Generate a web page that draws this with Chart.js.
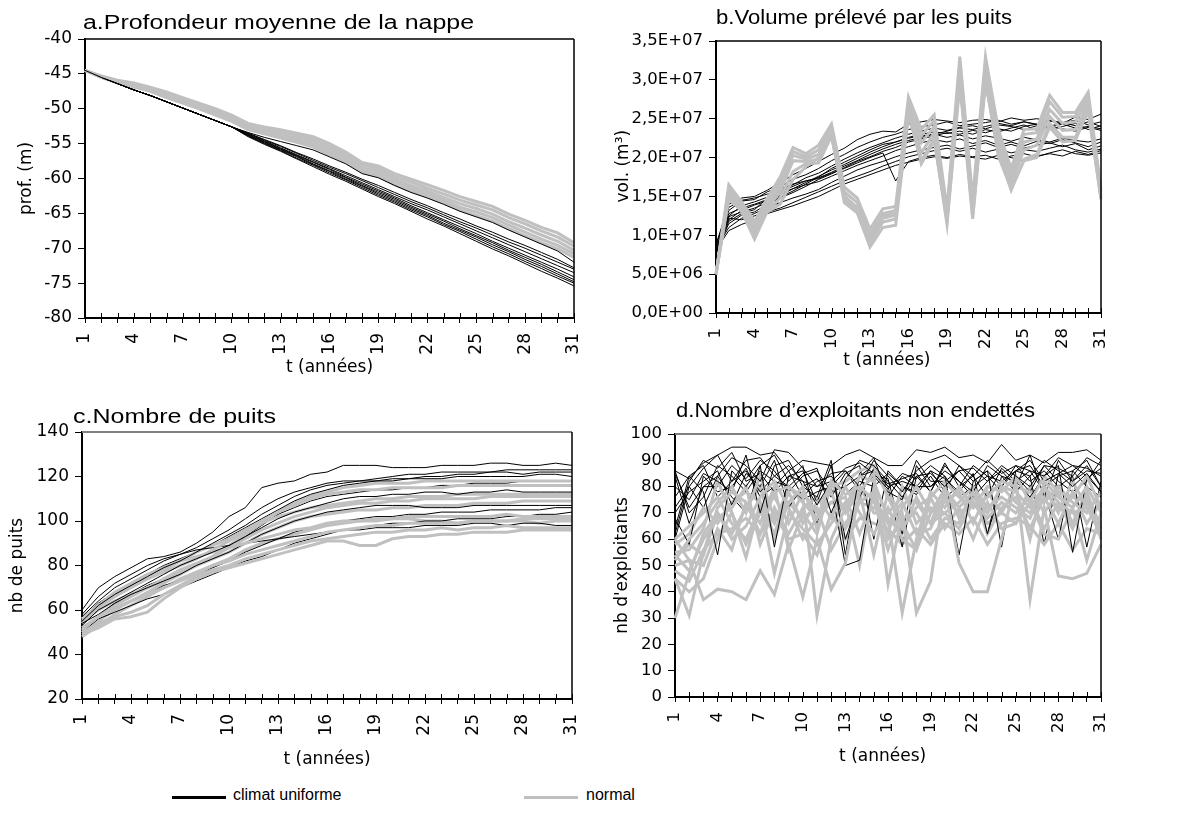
<!DOCTYPE html>
<html><head><meta charset="utf-8">
<script src="https://cdn.jsdelivr.net/npm/chart.js@4.4.0/dist/chart.umd.min.js"></script>
<style>
body{margin:0;background:#fff;width:1187px;height:816px;position:relative;overflow:hidden;font-family:'Liberation Sans',Arial,sans-serif}
canvas{position:absolute}
.leg{position:absolute;font-size:16px;color:#000;white-space:nowrap;line-height:18px}
.sw{position:absolute;height:3px}
</style></head><body>
<canvas id="ca" width="590" height="390" style="left:0;top:0"></canvas>
<canvas id="cb" width="597" height="390" style="left:590px;top:0"></canvas>
<canvas id="cc" width="590" height="390" style="left:0;top:390px"></canvas>
<canvas id="cd" width="597" height="390" style="left:590px;top:390px"></canvas>
<div class="sw" style="left:172px;top:796px;width:54px;background:#000"></div>
<div class="leg" style="left:233px;top:786px">climat uniforme</div>
<div class="sw" style="left:524px;top:796px;width:54px;background:#c0c0c0"></div>
<div class="leg" style="left:586px;top:786px">normal</div>
<script>
// ---------- data ----------
const years = ['1','2','3','4','5','6','7','8','9','10','11','12','13','14','15','16','17','18','19','20','21','22','23','24','25','26','27','28','29','30','31'];
const ticksVolume = ['0,0E+00','5,0E+06','1,0E+07','1,5E+07','2,0E+07','2,5E+07','3,0E+07','3,5E+07'];

// a. profondeur (m) - climat uniforme
const profUni1 = [-44.5,-45.5,-46.4,-47.3,-48.1,-49.0,-49.9,-50.8,-51.7,-52.6,-53.4,-54.1,-54.7,-55.3,-55.9,-56.9,-57.9,-59.3,-59.9,-61.0,-62.0,-62.8,-63.7,-64.7,-65.5,-66.3,-67.4,-68.4,-69.4,-70.4,-72.0];
const profUni2 = [-44.5,-45.5,-46.4,-47.3,-48.1,-49.0,-49.9,-50.8,-51.7,-52.6,-53.5,-54.4,-55.3,-56.3,-57.2,-58.2,-59.1,-60.1,-61.0,-62.0,-63.0,-63.9,-64.9,-65.8,-66.8,-67.7,-68.7,-69.6,-70.6,-71.6,-72.8];
const profUni3 = [-44.5,-45.5,-46.4,-47.3,-48.1,-49.0,-49.9,-50.8,-51.7,-52.6,-53.6,-54.6,-55.6,-56.6,-57.6,-58.6,-59.6,-60.6,-61.6,-62.6,-63.6,-64.5,-65.5,-66.5,-67.5,-68.5,-69.5,-70.5,-71.5,-72.5,-73.5];
const profUni4 = [-44.5,-45.5,-46.4,-47.3,-48.1,-49.0,-49.9,-50.8,-51.7,-52.6,-53.7,-54.7,-55.7,-56.7,-57.7,-58.7,-59.8,-60.8,-61.8,-62.8,-63.9,-64.9,-65.9,-66.9,-67.9,-69.0,-70.0,-71.0,-72.0,-73.0,-74.1];
const profUni5 = [-44.5,-45.5,-46.4,-47.3,-48.1,-49.0,-49.9,-50.8,-51.7,-52.6,-53.8,-54.9,-55.9,-56.9,-58.0,-59.0,-60.1,-61.1,-62.2,-63.2,-64.3,-65.3,-66.4,-67.4,-68.4,-69.5,-70.5,-71.6,-72.6,-73.7,-74.8];
const profUni6 = [-44.5,-45.5,-46.4,-47.3,-48.1,-49.0,-49.9,-50.8,-51.7,-52.6,-54.0,-55.1,-56.1,-57.2,-58.3,-59.4,-60.4,-61.5,-62.6,-63.6,-64.7,-65.8,-66.8,-67.9,-69.0,-70.1,-71.1,-72.2,-73.3,-74.3,-75.4];
const profUni7 = [-44.5,-45.5,-46.4,-47.3,-48.1,-49.0,-49.9,-50.8,-51.7,-52.6,-53.5,-54.5,-55.4,-56.4,-57.4,-58.4,-59.3,-60.3,-61.3,-62.3,-63.3,-64.2,-65.2,-66.2,-67.1,-68.1,-69.1,-70.0,-71.0,-72.0,-73.0];
const profUni8 = [-44.5,-45.5,-46.4,-47.3,-48.1,-49.0,-49.9,-50.8,-51.7,-52.6,-53.8,-54.8,-55.8,-56.8,-57.9,-58.9,-59.9,-61.0,-62.0,-63.0,-64.1,-65.1,-66.1,-67.2,-68.2,-69.2,-70.3,-71.3,-72.3,-73.4,-74.5];
const profUni9 = [-44.5,-45.5,-46.4,-47.3,-48.1,-49.0,-49.9,-50.8,-51.7,-52.6,-53.9,-55.0,-56.0,-57.1,-58.1,-59.2,-60.2,-61.3,-62.4,-63.4,-64.5,-65.5,-66.6,-67.6,-68.7,-69.8,-70.8,-71.9,-72.9,-74.0,-75.0];
// a. profondeur (m) - normal
const profNor1 = [-44.5,-45.3,-45.9,-46.3,-46.9,-47.6,-48.4,-49.2,-50.0,-50.9,-52.1,-52.6,-53.0,-53.5,-54.0,-55.0,-56.2,-57.7,-58.2,-59.3,-60.1,-60.9,-61.7,-62.6,-63.3,-64.0,-65.1,-66.0,-67.0,-67.8,-69.2];
const profNor2 = [-44.5,-45.4,-46.0,-46.5,-47.1,-47.8,-48.6,-49.4,-50.2,-51.1,-52.3,-52.9,-53.3,-53.8,-54.4,-55.4,-56.5,-58.0,-58.6,-59.7,-60.5,-61.4,-62.2,-63.1,-63.8,-64.5,-65.6,-66.5,-67.5,-68.4,-69.7];
const profNor3 = [-44.5,-45.4,-46.1,-46.6,-47.2,-48.0,-48.8,-49.6,-50.5,-51.4,-52.6,-53.2,-53.7,-54.2,-54.8,-55.8,-56.9,-58.4,-59.0,-60.1,-61.0,-61.8,-62.7,-63.6,-64.3,-65.1,-66.2,-67.1,-68.1,-69.0,-70.3];
const profNor4 = [-44.5,-45.5,-46.2,-46.8,-47.4,-48.2,-49.0,-49.8,-50.7,-51.6,-52.8,-53.4,-54.0,-54.5,-55.2,-56.2,-57.3,-58.8,-59.4,-60.5,-61.4,-62.2,-63.1,-64.1,-64.8,-65.6,-66.7,-67.7,-68.7,-69.6,-70.8];
const profNor5 = [-44.5,-45.5,-46.3,-46.9,-47.5,-48.4,-49.2,-50.0,-50.9,-51.8,-53.0,-53.6,-54.2,-54.8,-55.5,-56.6,-57.6,-59.1,-59.7,-60.9,-61.8,-62.6,-63.5,-64.5,-65.3,-66.1,-67.2,-68.2,-69.2,-70.1,-71.3];

// b. volume (millions of m3) - climat uniforme
const volUni1 = [8.8,14.0,14.8,15.0,15.8,16.8,17.8,18.6,19.5,20.4,21.2,22.3,23.0,23.4,23.3,24.3,24.6,24.9,24.7,24.5,24.8,24.9,24.6,25.1,24.8,25.0,24.7,24.4,25.2,24.9,25.6];
const volUni2 = [8.2,13.2,14.4,14.6,15.6,16.2,17.2,17.8,18.6,19.6,20.4,21.3,22.0,22.6,23.0,23.6,24.0,24.2,24.6,24.1,24.3,24.5,24.8,24.3,24.6,24.2,24.8,24.5,24.1,24.6,24.0];
const volUni3 = [7.6,12.5,13.8,14.3,14.9,15.8,16.5,17.4,18.0,18.9,19.8,20.6,21.3,21.9,22.5,23.0,23.4,23.8,23.5,23.9,24.1,23.7,24.2,24.0,23.6,24.1,23.9,24.3,23.8,24.0,23.7];
const volUni4 = [8.5,12.0,13.2,13.9,14.4,15.1,16.0,16.8,17.6,18.4,19.1,19.9,20.7,21.4,22.0,22.6,23.0,23.3,23.1,23.4,23.0,23.6,23.3,23.8,24.2,23.5,24.0,23.7,23.4,23.9,23.5];
const volUni5 = [8.0,11.5,12.6,13.0,14.0,14.8,15.5,16.3,17.2,17.9,18.7,19.5,20.1,20.8,21.3,22.0,22.4,22.8,23.2,23.0,23.5,23.2,23.7,23.4,24.0,24.3,23.6,24.0,24.4,23.6,24.1];
const volUni6 = [7.9,12.8,13.5,14.0,14.6,15.4,16.0,16.5,16.9,17.6,18.3,19.0,19.6,20.2,20.9,21.4,21.9,22.3,22.0,22.4,21.8,22.2,21.6,22.0,21.5,22.1,21.8,22.3,21.9,21.4,22.0];
const volUni7 = [8.3,11.0,12.2,12.8,13.6,14.2,14.8,15.3,15.9,16.8,17.6,18.4,19.0,19.5,20.1,20.6,21.0,21.3,21.6,21.1,21.5,21.9,21.3,21.7,21.2,21.6,21.9,21.4,21.8,21.0,21.5];
const volUni8 = [7.7,12.2,12.0,12.5,13.0,13.5,14.2,14.9,15.6,16.3,17.0,17.6,18.2,18.9,19.5,20.1,20.5,20.9,21.2,20.8,21.2,20.7,21.1,20.6,21.0,20.8,21.2,21.6,21.0,20.7,21.1];
const volUni9 = [8.6,13.6,14.5,14.8,15.3,16.0,16.6,17.0,17.3,18.0,18.6,19.3,20.0,20.6,17.0,19.5,20.0,20.3,20.0,20.4,20.1,20.3,19.8,20.2,20.5,20.1,20.6,21.0,20.5,20.3,20.6];
const volUni10 = [8.1,10.6,11.4,12.0,12.8,13.3,13.8,14.4,15.0,15.8,16.6,17.2,17.8,18.4,19.0,19.4,19.8,20.1,19.9,20.2,20.0,19.8,20.3,20.0,19.6,20.2,20.5,20.2,20.8,20.4,20.9];
const volUni11 = [9.0,12.4,13.0,13.5,14.2,14.9,15.7,16.6,17.5,18.6,19.4,20.2,21.0,21.7,22.0,22.5,22.8,23.0,22.6,22.9,22.4,22.8,22.5,22.1,22.6,22.3,22.0,22.5,22.2,22.0,22.4];
const volUni12 = [7.5,11.8,12.8,13.3,14.8,15.6,16.3,17.0,17.4,18.1,18.9,19.6,20.4,21.1,21.7,22.2,22.6,23.0,23.4,23.8,23.6,24.0,24.4,24.1,24.6,24.3,24.0,24.5,24.8,24.2,24.6];
// b. volume - normal
const volNor1 = [5.0,16.5,14.3,11.8,14.8,17.5,21.3,20.5,21.6,24.3,16.2,14.8,10.8,13.4,13.7,27.8,23.6,25.5,13.4,33.0,14.7,33.0,23.6,18.6,23.6,23.7,28.0,25.8,25.8,28.4,16.0];
const volNor2 = [5.0,16.0,14.0,11.2,14.3,16.8,20.8,20.1,21.0,23.8,15.6,14.2,10.2,12.8,13.2,27.0,22.8,24.8,12.9,32.2,14.0,32.2,23.0,18.0,23.0,23.2,27.2,25.2,25.3,27.8,15.6];
const volNor3 = [5.0,15.5,13.7,10.6,13.9,16.2,20.3,19.8,20.4,23.3,15.0,13.6,9.6,12.2,12.6,26.4,21.9,24.0,12.4,31.3,13.4,31.4,22.3,17.3,22.0,22.4,26.2,24.4,24.6,27.3,15.2];
const volNor4 = [5.0,15.1,13.4,10.1,13.5,15.6,19.6,19.5,19.8,23.0,14.6,13.2,9.1,11.7,12.1,25.9,20.6,23.2,11.9,30.4,12.8,30.5,21.6,16.6,21.0,21.6,25.3,23.5,23.6,26.8,14.9];
const volNor5 = [5.0,14.7,13.1,9.5,13.1,14.8,18.2,19.2,19.3,22.8,14.2,12.9,8.5,11.0,11.3,25.4,19.6,22.5,11.4,29.5,12.1,29.6,20.8,15.8,19.8,20.4,24.4,22.6,22.6,26.2,14.6];
const volNor6 = [5.0,15.8,13.0,10.8,13.0,14.0,17.2,18.8,20.0,22.7,15.2,13.3,9.3,12.5,12.8,26.0,19.2,22.2,12.0,30.0,12.4,30.0,20.2,16.0,19.6,20.0,23.9,22.0,22.2,26.0,14.8];

// c. nombre de puits - climat uniforme
const puitsUni1 = [60,70,75,79,83,84,86,90,95,102,106,115,117,118,121,122,125,125,125,124,124,124,125,125,125,126,126,125,125,126,125];
const puitsUni2 = [57,64,70,74,78,82,85,88,92,96,101,106,110,113,115,117,118,118,119,120,121,121,122,122,122,122,123,123,123,123,123];
const puitsUni3 = [55,62,67,71,75,79,82,86,90,94,98,103,107,111,114,116,117,118,118,119,119,120,120,121,121,122,122,121,122,122,122];
const puitsUni4 = [53,60,64,68,72,76,80,83,86,89,93,97,101,104,106,108,110,111,111,112,112,113,113,112,113,113,114,113,113,113,113];
const puitsUni5 = [54,58,63,67,70,73,76,80,83,86,90,94,97,100,102,104,105,106,107,107,107,106,106,106,107,107,107,107,107,107,107];
const puitsUni6 = [52,57,61,64,67,71,73,76,79,82,86,89,92,95,97,99,100,101,102,102,103,103,104,104,104,105,105,105,105,106,106];
const puitsUni7 = [50,56,59,62,65,67,70,73,76,79,82,84,87,90,92,94,96,97,98,99,99,100,100,101,101,101,102,102,103,103,104];
const puitsUni8 = [58,66,72,76,80,83,85,87,88,89,90,91,92,93,94,95,96,96,97,97,97,98,98,98,99,99,98,99,99,98,98];
const puitsUni9 = [56,63,68,72,76,80,83,86,89,93,97,101,105,109,112,114,116,117,118,118,119,119,119,120,120,120,120,120,121,121,120];
const puitsUni10 = [51,57,63,67,71,74,77,80,84,88,93,98,103,106,109,111,112,113,114,114,115,115,116,116,117,117,117,118,118,118,118];
// c. nombre de puits - normal
const puitsNor1 = [49,52,56,57,59,65,70,74,77,79,81,83,85,87,89,91,91,89,89,92,93,93,94,94,95,95,95,96,96,96,96];
const puitsNor2 = [50,54,57,59,62,67,71,75,78,80,83,85,87,89,91,92,93,94,95,95,96,96,97,96,97,97,98,97,97,97,97];
const puitsNor3 = [52,57,61,64,67,70,73,76,80,82,85,87,89,91,93,95,96,97,98,98,99,99,99,99,100,100,100,101,101,101,101];
const puitsNor4 = [56,62,68,72,76,79,82,84,86,88,90,92,94,96,97,99,100,100,101,101,102,102,102,102,102,102,103,102,102,102,102];
const puitsNor5 = [55,60,64,67,70,73,77,80,83,86,90,94,97,100,102,103,104,105,105,106,106,107,107,107,108,108,108,109,109,109,109];
const puitsNor6 = [51,57,62,66,70,74,78,81,84,88,92,96,99,102,104,106,107,108,108,109,109,110,110,110,110,111,111,111,111,111,111];
const puitsNor7 = [56,62,67,71,74,77,80,83,87,91,95,99,102,104,106,107,108,109,110,110,111,111,111,112,112,112,112,112,112,112,112];
const puitsNor8 = [54,61,66,70,74,78,82,86,89,92,96,100,104,107,110,112,113,114,114,115,115,115,115,116,116,116,116,116,116,116,116];
const puitsNor9 = [50,55,60,64,68,72,76,80,84,89,94,99,104,108,111,113,115,116,117,117,117,118,118,118,118,118,118,118,118,118,118];
const puitsNor10 = [48,53,58,62,66,70,74,77,80,83,87,90,92,94,96,98,99,100,100,101,101,100,100,99,100,100,100,100,99,100,100];

// d. exploitants non endettés - climat uniforme
const exploUni1 = [86,83,89,92,95,95,92,93,86,90,89,88,92,94,91,88,88,94,93,95,91,92,89,96,90,92,89,93,93,94,90];
const exploUni2 = [85,72,80,84,91,88,82,94,93,87,80,85,86,80,90,84,78,86,90,92,88,84,90,85,88,86,84,91,88,87,84];
const exploUni3 = [72,80,87,92,82,90,91,84,80,85,87,70,83,90,88,82,76,84,85,80,86,87,82,88,84,80,88,87,84,91,88];
const exploUni4 = [64,84,78,54,86,80,88,57,84,82,73,82,87,89,85,79,85,83,88,84,54,82,86,57,86,90,82,85,80,85,78];
const exploUni5 = [80,75,85,82,78,92,70,88,90,80,76,90,54,85,91,76,84,80,80,86,82,78,88,84,78,84,90,86,82,88,80];
const exploUni6 = [62,82,90,87,93,82,85,78,84,86,74,88,60,76,87,81,83,85,78,89,80,84,76,87,82,76,84,88,55,83,87];
const exploUni7 = [86,70,76,88,84,78,86,82,80,75,78,80,50,52,84,78,75,90,82,82,86,80,84,82,86,88,80,84,86,80,76];
const exploUni8 = [70,78,82,86,73,85,80,90,72,80,83,76,85,88,60,86,80,78,86,83,78,85,62,80,88,82,86,80,84,57,82];
const exploUni9 = [84,66,80,80,88,83,90,86,78,84,86,78,80,84,88,80,57,84,78,88,82,76,82,86,80,92,76,90,82,86,85];
const exploUni10 = [68,58,84,78,80,87,76,80,86,76,82,84,77,82,80,85,80,77,84,76,80,88,84,78,84,78,88,82,78,82,90];
const exploUni11 = [60,80,72,84,76,70,88,92,82,88,66,80,86,78,84,83,62,88,80,84,76,80,62,84,82,86,78,60,86,90,80];
const exploUni12 = [76,84,88,76,82,86,78,84,88,82,80,82,70,84,86,80,82,80,86,78,88,82,86,80,86,84,58,85,88,84,78];
// d. exploitants non endettés - normal
const exploNor1 = [30,47,62,70,60,65,76,82,72,60,68,82,77,80,75,56,72,80,70,79,72,78,70,80,78,72,80,74,70,72,62];
const exploNor2 = [45,31,55,72,78,74,62,78,80,76,31,60,72,84,82,68,32,60,78,72,80,72,76,82,80,60,82,76,72,80,70];
const exploNor3 = [50,52,37,41,40,37,48,39,58,38,60,41,51,78,85,43,70,32,44,80,51,40,40,60,82,37,72,46,45,47,58];
const exploNor4 = [52,60,66,74,80,70,84,68,74,80,64,80,82,86,88,76,64,72,76,82,76,72,80,78,84,74,84,78,76,84,72];
const exploNor5 = [60,65,70,76,66,60,72,62,78,66,74,78,64,74,78,62,80,66,72,70,74,80,72,76,72,68,80,70,82,72,66];
const exploNor6 = [54,48,60,68,72,80,58,72,62,72,76,68,80,70,62,72,60,56,70,74,78,66,78,70,80,78,74,80,74,70,78];
const exploNor7 = [55,56,64,82,70,58,70,76,66,78,70,74,76,62,76,66,74,62,64,76,70,74,68,74,70,76,64,74,64,76,60];
const exploNor8 = [60,52,50,64,56,74,66,80,56,70,62,82,70,78,54,78,68,70,60,68,66,78,62,72,76,64,76,66,78,66,74];
const exploNor9 = [45,40,45,60,70,53,74,47,70,64,58,66,74,50,80,60,66,56,76,64,72,60,74,64,66,74,62,60,72,52,70];
const exploNor10 = [58,62,72,66,74,78,74,66,80,74,68,74,72,80,70,70,76,74,66,80,68,76,70,80,74,70,78,72,76,74,66];
const exploNor11 = [48,44,56,62,64,68,62,70,60,62,54,70,60,68,66,64,58,64,58,66,62,68,58,66,68,65,58,66,56,64,62];
const exploNor12 = [53,58,54,70,62,72,80,60,74,68,72,56,66,74,72,68,62,76,66,70,64,74,66,70,66,80,70,78,66,78,64];

// ---------- helpers ----------
const BLACK = '#000000', GREY = '#c0c0c0';
Chart.defaults.font.family = "'DejaVu Sans', sans-serif";
Chart.defaults.font.size = 17;
Chart.defaults.color = '#000';

function ds(arr, kind) {
  return { data: arr, borderColor: kind === 'u' ? BLACK : GREY, borderWidth: kind === 'u' ? 1 : 3,
           pointRadius: 0, tension: 0, fill: false };
}
function interleave(u, n) {
  const out = []; const m = Math.max(u.length, n.length);
  for (let i = 0; i < m; i++) { if (u[i]) out.push(ds(u[i], 'u')); if (n[i]) out.push(ds(n[i], 'n')); }
  return out;
}

const panelDeco = {
  id: 'panelDeco',
  afterDatasetsDraw(chart, args, o) {
    const ctx = chart.ctx, a = chart.chartArea, xs = chart.scales.x;
    ctx.save();
    ctx.lineWidth = 1; ctx.strokeStyle = '#000';
    ctx.beginPath();
    for (let i = 0; i < xs.ticks.length; i++) {
      const x = Math.round(xs.getPixelForTick(i)) + 0.5;
      ctx.moveTo(x, a.bottom); ctx.lineTo(x, a.bottom - o.inner);
    }
    ctx.stroke();
    ctx.strokeStyle = o.topColor; ctx.lineWidth = o.topWidth;
    ctx.beginPath(); ctx.moveTo(a.left, a.top); ctx.lineTo(a.right, a.top); ctx.stroke();
    ctx.strokeStyle = o.rightColor; ctx.lineWidth = o.rightWidth;
    ctx.beginPath(); ctx.moveTo(a.right, a.top); ctx.lineTo(a.right, a.bottom); ctx.stroke();
    ctx.font = o.titleFont; ctx.fillStyle = '#000'; ctx.textBaseline = 'alphabetic'; ctx.textAlign = 'left';
    const w = ctx.measureText(o.title).width;
    ctx.translate(o.titleX, o.titleY); ctx.scale(o.titleW / w, 1);
    ctx.fillText(o.title, 0, 0);
    ctx.restore();
  }
};

function panel(id, p) {
  return new Chart(document.getElementById(id), {
    type: 'line',
    data: { labels: years, datasets: p.datasets },
    options: {
      responsive: false, animation: false, events: [],
      layout: { padding: { left: 0, top: p.padTop, right: p.padRight, bottom: p.padBottom } },
      plugins: {
        legend: { display: false }, tooltip: { enabled: false },
        panelDeco: { inner: 5, topColor: p.topColor, topWidth: p.topWidth, rightColor: '#000', rightWidth: 1.5,
                     title: p.title, titleX: p.titleX, titleY: p.titleY, titleW: p.titleW,
                     titleFont: "20px 'Liberation Sans', Arial, sans-serif" }
      },
      scales: {
        x: {
          type: 'category', offset: false,
          border: { display: true, color: '#000', width: 2 },
          grid: { display: true, drawOnChartArea: false, drawTicks: true, tickLength: 5, color: '#000', lineWidth: 1 },
          ticks: { autoSkip: false, minRotation: 90, maxRotation: 90, padding: 10, color: '#000', font: { size: p.fs },
                   callback: (v, i) => (i % 3 === 0 ? years[i] : '') },
          title: { display: true, text: p.xTitle, color: '#000', font: { size: 17 }, padding: 0 },
          afterFit: (s) => { s.height = p.xH; s.paddingLeft = 0; s.paddingRight = 0; }
        },
        y: {
          type: 'linear', min: p.yMin, max: p.yMax,
          border: { display: true, color: '#000', width: 2 },
          grid: { display: true, drawOnChartArea: false, drawTicks: true, tickLength: 7, color: '#000', lineWidth: 1 },
          ticks: { stepSize: p.yStep, padding: 6, color: '#000', font: { size: p.fs }, callback: p.yCb },
          title: { display: true, text: p.yTitle, color: '#000', font: { size: 17 }, padding: { top: p.yTitlePad, bottom: 0 } },
          afterFit: (s) => { s.width = p.yW; s.paddingTop = 0; s.paddingBottom = 0; }
        }
      }
    },
    plugins: [panelDeco]
  });
}

panel('ca', {
  datasets: interleave([profUni1, profUni2, profUni3, profUni4, profUni5, profUni6, profUni7, profUni8, profUni9],
                       [profNor1, profNor2, profNor3, profNor4, profNor5]),
  fs: 17, padTop: 39, padRight: 16, padBottom: 12, xH: 60, yW: 85, yTitlePad: 16,
  yMin: -80, yMax: -40, yStep: 5, yCb: (v) => String(v),
  xTitle: 't (années)', yTitle: 'prof. (m)',
  topColor: '#000', topWidth: 1.5,
  title: 'a.Profondeur moyenne de la nappe', titleX: 83, titleY: 29, titleW: 391
});

panel('cb', {
  datasets: [volNor1, volNor2, volNor3, volNor4, volNor5, volNor6].map(a => ds(a, 'n'))
    .concat([volUni1, volUni2, volUni3, volUni4, volUni5, volUni6, volUni7, volUni8, volUni9, volUni10, volUni11, volUni12].map(a => ds(a, 'u'))),
  fs: 16.5, padTop: 41, padRight: 86, padBottom: 19, xH: 58, yW: 126, yTitlePad: 23,
  yMin: 0, yMax: 35, yStep: 5, yCb: (v) => ticksVolume[Math.round(v / 5)],
  xTitle: 't (années)        ', yTitle: '    vol. (m³)',
  topColor: '#000', topWidth: 1.5,
  title: 'b.Volume prélevé par les puits', titleX: 126, titleY: 24, titleW: 296
});

panel('cc', {
  datasets: interleave([puitsUni1, puitsUni2, puitsUni3, puitsUni4, puitsUni5, puitsUni6, puitsUni7, puitsUni8, puitsUni9, puitsUni10],
                       [puitsNor1, puitsNor2, puitsNor3, puitsNor4, puitsNor5, puitsNor6, puitsNor7, puitsNor8, puitsNor9, puitsNor10]),
  fs: 17, padTop: 42, padRight: 18, padBottom: 10, xH: 71, yW: 82, yTitlePad: 7,
  yMin: 20, yMax: 140, yStep: 20, yCb: (v) => String(v),
  xTitle: 't (années)', yTitle: 'nb de puits',
  topColor: '#808080', topWidth: 2,
  title: 'c.Nombre de puits', titleX: 73, titleY: 33, titleW: 203
});

panel('cd', {
  datasets: interleave([exploUni1, exploUni2, exploUni3, exploUni4, exploUni5, exploUni6, exploUni7, exploUni8, exploUni9, exploUni10, exploUni11, exploUni12],
                       [exploNor1, exploNor2, exploNor3, exploNor4, exploNor5, exploNor6, exploNor7, exploNor8, exploNor9, exploNor10, exploNor11, exploNor12]),
  fs: 16.5, padTop: 44, padRight: 86, padBottom: 13, xH: 70, yW: 85, yTitlePad: 22,
  yMin: 0, yMax: 100, yStep: 10, yCb: (v) => String(v),
  xTitle: 't (années)  ', yTitle: "nb d'exploitants",
  topColor: '#808080', topWidth: 2,
  title: 'd.Nombre d’exploitants non endettés', titleX: 86, titleY: 27, titleW: 359
});
</script>
</body></html>
